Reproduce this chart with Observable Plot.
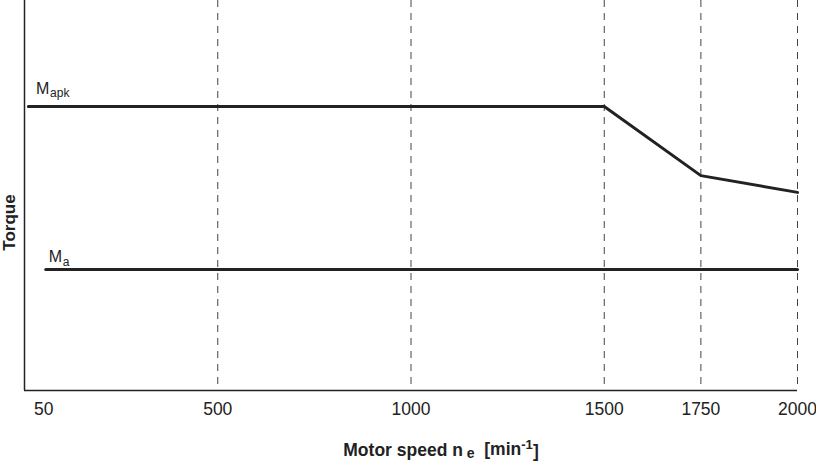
<!DOCTYPE html>
<html>
<head>
<meta charset="utf-8">
<script src="https://cdn.jsdelivr.net/npm/d3@7"></script>
<script src="https://cdn.jsdelivr.net/npm/@observablehq/plot@0.6"></script>
<style>
  html, body { margin: 0; padding: 0; background: #fff; }
</style>
</head>
<body>
<div id="chart"></div>
<script>
// Motor speed [min^-1] and torque (arbitrary units, no y ticks)
const mapkSpeed = [10, 1500, 1750, 2000];
const mapkTorque = [72.8, 72.8, 55.1, 50.8];
const maSpeed = [55, 2000];
const maTorque = [31, 31];
const xTickValues = [50, 500, 1000, 1500, 1750, 2000];
const gridSpeeds = [500, 1000, 1500, 1750, 2000];
const labelMain = ["M", "M"];
const labelSub = ["apk", "a"];
const labelSpeed = [30, 63];
const labelTorque = [77.4, 34.3];

const mapk = mapkSpeed.map((s, i) => ({speed: s, torque: mapkTorque[i]}));
const ma = maSpeed.map((s, i) => ({speed: s, torque: maTorque[i]}));
const labels = labelMain.map((m, i) => ({main: m, sub: labelSub[i], speed: labelSpeed[i], torque: labelTorque[i]}));

const ink = "#222";

const chart = Plot.plot({
  width: 816,
  height: 462,
  marginLeft: 24,
  marginRight: 19,
  marginTop: 0,
  marginBottom: 72,
  x: {domain: [0, 2000]},
  y: {domain: [0, 100]},
  style: {fontFamily: "'Liberation Sans', Arial, sans-serif", fontSize: "17px", color: ink, background: "#fff"},
  marks: [
    Plot.ruleX(gridSpeeds, {x: d => d, stroke: "#444", strokeWidth: 1, strokeDasharray: "7,6"}),
    Plot.ruleX([0], {stroke: ink, strokeWidth: 1.5}),
    Plot.ruleY([0], {stroke: ink, strokeWidth: 1.5}),
    Plot.line(mapk, {x: "speed", y: "torque", stroke: ink, strokeWidth: 3}),
    Plot.line(ma, {x: "speed", y: "torque", stroke: ink, strokeWidth: 3}),
    Plot.text(labels, {x: "speed", y: "torque", text: "main", textAnchor: "start", fontSize: 16, fill: ink}),
    Plot.text(labels, {x: "speed", y: "torque", text: "sub", textAnchor: "start", fontSize: 12, dx: 14, dy: 5, fill: ink}),
    Plot.axisX({ticks: xTickValues, tickSize: 0, tickPadding: 12, tickFormat: d => String(d),
      label: "Motor speed n e [min-1]", labelAnchor: "center", labelArrow: "none", labelOffset: 65,
      fontSize: 17.5}),
    Plot.axisY({ticks: [], tickSize: 0, label: "Torque", labelAnchor: "center", labelArrow: "none", labelOffset: 18})
  ]
});

// Rich text for axis labels (subscript / superscript, bold)
const svg = d3.select(chart);
const xl = svg.select('g[aria-label="x-axis label"] text');
if (!xl.empty()) {
  xl.text(null).attr("font-weight", "bold").attr("font-size", 17.5).attr("dx", 30);
  xl.append("tspan").text("Motor speed n");
  xl.append("tspan").attr("dy", "0.2em").attr("font-size", "0.8em").text(" e");
  xl.append("tspan").attr("dy", "-0.2em").text("  [min");
  xl.append("tspan").attr("dy", "-0.45em").attr("font-size", "0.75em").text("-1");
  xl.append("tspan").attr("dy", "0.45em").text("]");
}
const yl = svg.select('g[aria-label="y-axis label"] text');
if (!yl.empty()) {
  yl.attr("font-weight", "bold").attr("font-size", 17).attr("dx", -27).attr("dy", "-0.2em");
}

document.getElementById("chart").appendChild(chart);
</script>
</body>
</html>
